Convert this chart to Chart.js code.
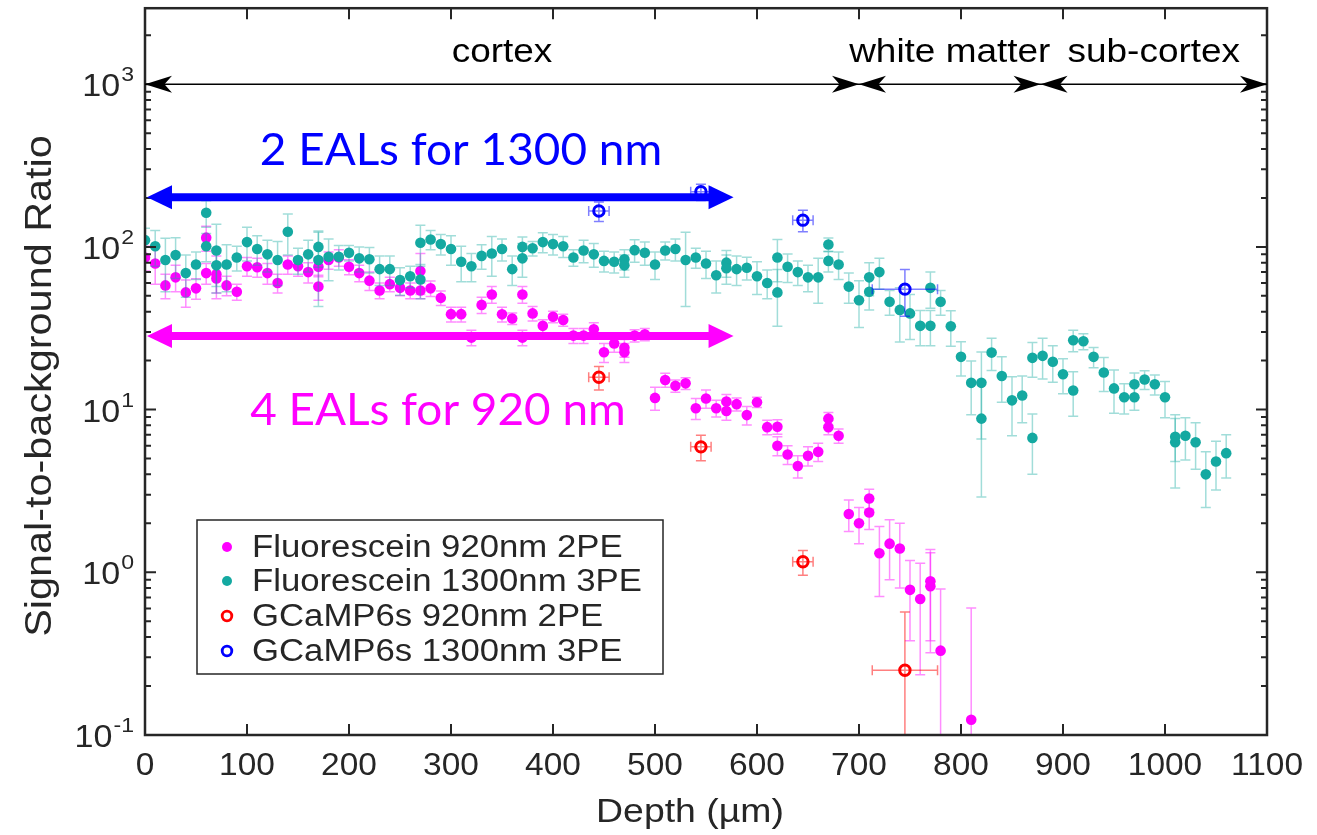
<!DOCTYPE html>
<html>
<head>
<meta charset="utf-8">
<script src="https://cdn.jsdelivr.net/npm/chart.js@4.4.1/dist/chart.umd.min.js"></script>
<style>html,body{margin:0;padding:0;background:#fff}canvas{display:block}</style>
</head>
<body>
<canvas id="c" width="1317" height="835"></canvas>
<script>
/* SBR vs depth — fluorescein / GCaMP6s, 920 nm 2PE vs 1300 nm 3PE */

// ---- data ----
const fluo1300Depth = [0,10,20,30,40,50,60,60,70,70,80,90,100,110,120,130,140,150,160,170,170,180,190,200,210,220,230,240,250,260,270,270,280,290,300,310,320,330,340,350,360,370,370,380,390,400,410,420,430,440,450,460,470,470,480,490,500,510,520,530,540,550,560,570,570,580,590,600,610,620,620,630,640,650,660,670,670,680,690,700,710,710,720,730,740,750,760,770,770,780,790,800,810,820,820,830,840,850,860,870,870,880,890,900,910,910,920,930,940,950,960,970,970,980,990,1000,1010,1010,1020,1030,1040,1050,1060];
const fluo1300Sbr = [110,101,83,89,69,78,162,101,95,77,78,86,107,97,90,83,124,83,90,100,83,87,87,92,85,84,73,73,62.5,66,63,106,111,104,97,81,76,88,91,97,73,100,85,98,107,104,101,86,95,90,82,81,84,77,95.5,92,78,95,97,83,86,79,67,80,74,73,74.5,66,60,86,52.5,75.5,70,65,65,103.5,82,78,57,47,65,53,70,46,41,39,32.7,56,32.7,46,32.5,21.1,14.6,14.6,8.8,22.4,16.1,11.4,12.2,20.8,6.7,21.4,19.7,16.5,26.7,13.1,26.3,21.1,16.9,13.5,11.9,11.9,14.3,15.3,14.3,11.9,6.8,6.3,6.9,6.3,4.0,4.8,5.4];
const fluo1300Err = [20,25,30,25,20,15,30,20,43,20,25,15,25,20,20,25,35,15,20,25,40,25,15,10,15,15,15,15,12,10,15,30,15,15,20,20,15,15,25,15,15,15,20,10,15,15,15,10,15,15,12,12,12,12,15,15,15,12,15,40,12,15,15,15,15,15,12,15,12,25,20,15,12,12,20,10,12,15,12,15,15,12,15,8,15,12,8,14,8,8,8,5,5.3,8,5.9,5,5,4.5,3.9,5,2.7,6,5,4,4,4,3,3,4,4,2.5,2,2.5,2,2,3,2,3,2,2,1.5,1.6,1.6];

const fluo920Depth = [0,10,20,30,40,50,60,60,70,70,80,90,100,110,120,130,140,150,160,170,170,180,190,200,210,220,230,240,250,260,270,270,280,290,300,310,320,330,340,350,360,370,370,380,390,400,410,420,430,440,450,460,470,470,480,490,500,510,520,530,540,550,560,570,570,580,590,600,610,620,620,630,640,650,660,670,670,680,690,700,710,710,720,730,740,750,760,770,770,780,810];
const fluo920Sbr = [86,79,58,65,52.5,55.6,114,69,68,64,58,53,76,75,69,60,78,76,70,75.5,57,83,86,75.5,69,62,54,59,56,54,54,71,55.6,48.6,38.6,38.6,27.7,44,51,38.5,36.3,51,27.7,39,32.7,37.2,35.5,28.5,28.5,31.2,22.5,25.5,24,22.5,28.5,29,11.8,15.2,14,14.5,10.2,11.7,10.2,11.2,9.8,10.8,9.25,11.1,7.8,7.85,6.0,5.3,4.5,5.2,5.5,8.8,7.8,6.9,2.28,2.0,2.84,2.33,1.31,1.5,1.4,0.78,0.685,0.88,0.82,0.33,0.124];
const fluo920Err = [15,20,10,12,10,8,20,10,20,12,8,6,10,10,10,8,10,10,10,10,10,10,10,8,8,8,6,6,6,6,6,20,6,5,4,4,3,5,6,4,3,6,3,4,3,3,3,3,3,3,3,3,3,3,2.5,2.5,1.9,1.5,1.2,1.2,1.5,1.5,1.2,1.2,1.2,1,1.2,0.8,0.8,0.8,0.8,0.7,0.7,0.7,0.7,0.8,0.8,0.7,0.5,0.5,0.4,0.5,0.6,0.6,0.6,0.4,0.45,0.5,0.5,0.46,0.48];

const gcamp920Depth = [445,545,645,745];
const gcamp920Sbr = [15.8,5.9,1.16,0.25];
const gcamp920Err = [2.6,1.05,0.2,0.32];
const gcamp920DepthErr = [10,10,10,32];

const gcamp1300Depth = [445,545,645,745];
const gcamp1300Sbr = [166,218,146,55];
const gcamp1300Err = [23,25,22,17.5];
const gcamp1300DepthErr = [10,10,10,32];

const seriesNames = ['Fluorescein 920nm 2PE','Fluorescein 1300nm 3PE','GCaMP6s 920nm 2PE','GCaMP6s 1300nm 3PE'];
const xTicks = [0,100,200,300,400,500,600,700,800,900,1000,1100];
const yTickExp = [-1,0,1,2,3];

const regionNames = ['cortex','white matter','sub-cortex'];
const regionBounds = [0,700,878,1100];
const regionLevel = 1000;

const ealLabels = ['2 EALs for 1300 nm','4 EALs for 920 nm'];
const ealLevels = [202,28.3];
const ealEnd = 577;

const MAG = '#ff00ff', TEAL = '#14a9a1', RED = '#ff0000', BLUE = '#0000ff', AX = '#262626';
const SANS = '"Liberation Sans", Arial, sans-serif';

const pts = (xs, ys) => xs.map((x, i) => ({x, y: ys[i]}));

function stretchText(ctx, s, x, y, font, align, sx) {
  ctx.save();
  ctx.font = font;
  ctx.translate(x, y);
  ctx.scale(sx, 1);
  ctx.textAlign = align;
  ctx.fillText(s, 0, 0);
  ctx.restore();
}

// ---- error bars, drawn under each dataset's markers ----
const errorBars = {
  id: 'errorBars',
  beforeDatasetDraw(chart, args) {
    const ds = chart.data.datasets[args.index];
    if (!ds.errY) return;
    const {ctx, chartArea: a} = chart;
    const xs = chart.scales.x, ys = chart.scales.y;
    ctx.save();
    ctx.beginPath();
    ctx.rect(a.left, a.top, a.right - a.left, a.bottom - a.top);
    ctx.clip();
    ctx.strokeStyle = ds.errColor;
    ctx.lineWidth = 1.5;
    const cap = 5;
    ds.data.forEach((p, i) => {
      const px = xs.getPixelForValue(p.x);
      const e = ds.errY[i];
      const hi = ys.getPixelForValue(p.y + e);
      const lo = p.y - e > 0 ? ys.getPixelForValue(p.y - e) : a.bottom + 40;
      ctx.beginPath();
      ctx.moveTo(px, lo); ctx.lineTo(px, hi);
      ctx.moveTo(px - cap, hi); ctx.lineTo(px + cap, hi);
      ctx.moveTo(px - cap, lo); ctx.lineTo(px + cap, lo);
      if (ds.errX) {
        const py = ys.getPixelForValue(p.y);
        const l = xs.getPixelForValue(p.x - ds.errX[i]);
        const r = xs.getPixelForValue(p.x + ds.errX[i]);
        ctx.moveTo(l, py); ctx.lineTo(r, py);
        ctx.moveTo(l, py - cap); ctx.lineTo(l, py + cap);
        ctx.moveTo(r, py - cap); ctx.lineTo(r, py + cap);
      }
      ctx.stroke();
    });
    ctx.restore();
  }
};

function plainHead(ctx, tipX, y, dir, L, W) {
  ctx.beginPath();
  ctx.moveTo(tipX, y);
  ctx.lineTo(tipX - dir * L, y - W / 2);
  ctx.lineTo(tipX - dir * L, y + W / 2);
  ctx.closePath();
  ctx.fill();
}
// MATLAB-style 'vback2' head: dart with a notched back
function vbackHead(ctx, tipX, y, dir, L, W) {
  ctx.beginPath();
  ctx.moveTo(tipX, y);
  ctx.lineTo(tipX - dir * L, y - W / 2);
  ctx.lineTo(tipX - dir * L * 0.72, y);
  ctx.lineTo(tipX - dir * L, y + W / 2);
  ctx.closePath();
  ctx.fill();
}

// ---- frame, ticks, labels, annotations, legend ----
const decor = {
  id: 'decor',
  afterDatasetsDraw(chart) {
    const {ctx, chartArea: a} = chart;
    const xs = chart.scales.x, ys = chart.scales.y;
    ctx.save();
    ctx.strokeStyle = AX;
    ctx.fillStyle = AX;

    // ticks (inside, all four sides)
    ctx.lineWidth = 2;
    ctx.beginPath();
    xTicks.forEach(v => {
      const px = xs.getPixelForValue(v);
      ctx.moveTo(px, a.bottom); ctx.lineTo(px, a.bottom - 11);
      ctx.moveTo(px, a.top); ctx.lineTo(px, a.top + 11);
    });
    for (let e = -1; e <= 3; e++) {
      for (let m = 1; m <= 9; m++) {
        const v = m * Math.pow(10, e);
        if (v > ys.max) continue;
        const py = ys.getPixelForValue(v);
        const len = m === 1 ? 11 : 6;
        ctx.moveTo(a.left, py); ctx.lineTo(a.left + len, py);
        ctx.moveTo(a.right, py); ctx.lineTo(a.right - len, py);
      }
    }
    ctx.stroke();

    // frame
    ctx.lineWidth = 2.5;
    ctx.strokeRect(a.left, a.top, a.right - a.left, a.bottom - a.top);

    // tick labels
    ctx.textBaseline = 'middle';
    xTicks.forEach(v => {
      stretchText(ctx, String(v), xs.getPixelForValue(v), a.bottom + 31, '31px ' + SANS, 'center', 1.08);
    });
    yTickExp.forEach(e => {
      const py = ys.getPixelForValue(Math.pow(10, e));
      const sup = String(e);
      ctx.font = '21px ' + SANS;
      const supW = ctx.measureText(sup).width * 1.1;
      const right = a.left - 11;
      ctx.textBaseline = 'alphabetic';
      stretchText(ctx, sup, right, py - 3, '21px ' + SANS, 'right', 1.1);
      stretchText(ctx, '10', right - supW - 1, py + 12, '31px ' + SANS, 'right', 1.1);
    });

    // axis titles
    ctx.textBaseline = 'alphabetic';
    stretchText(ctx, 'Depth (\u00b5m)', 690, 822, '34px ' + SANS, 'center', 1.1);
    ctx.save();
    ctx.translate(51, 386);
    ctx.rotate(-Math.PI / 2);
    stretchText(ctx, 'Signal-to-background Ratio', 0, 0, '36px ' + SANS, 'center', 1.15);
    ctx.restore();

    // region arrows along the top
    const ry = ys.getPixelForValue(regionLevel);
    ctx.fillStyle = '#000';
    ctx.strokeStyle = '#000';
    ctx.lineWidth = 1.5;
    ctx.beginPath();
    ctx.moveTo(xs.getPixelForValue(regionBounds[0]), ry);
    ctx.lineTo(xs.getPixelForValue(regionBounds[regionBounds.length - 1]), ry);
    ctx.stroke();
    for (let i = 0; i < regionNames.length; i++) {
      const l = xs.getPixelForValue(regionBounds[i]);
      const r = xs.getPixelForValue(regionBounds[i + 1]);
      vbackHead(ctx, l, ry, -1, 27, 17);
      vbackHead(ctx, r, ry, 1, 27, 17);
      stretchText(ctx, regionNames[i], (l + r) / 2, ry - 22, '33px ' + SANS, 'center', 1.12);
    }

    // EAL arrows
    const ealColors = [BLUE, MAG];
    const ealTextY = [165, 425];
    ealLevels.forEach((lv, i) => {
      const py = ys.getPixelForValue(lv);
      const l = xs.getPixelForValue(0) + 2, r = xs.getPixelForValue(ealEnd);
      ctx.fillStyle = ealColors[i];
      ctx.strokeStyle = ealColors[i];
      ctx.lineWidth = 8;
      ctx.beginPath();
      ctx.moveTo(l + 20, py); ctx.lineTo(r - 20, py);
      ctx.stroke();
      plainHead(ctx, l, py, -1, 25, 24);
      plainHead(ctx, r, py, 1, 25, 24);
      ctx.textAlign = 'center';
      stretchText(ctx, ealLabels[i], i === 0 ? 461 : 438, ealTextY[i], '45px Lato, "Open Sans", sans-serif', 'center', 1.02);
    });

    // legend
    const lx = 197, ly = 520, lw = 466, lh = 154;
    ctx.fillStyle = '#fff';
    ctx.fillRect(lx, ly, lw, lh);
    ctx.strokeStyle = AX;
    ctx.lineWidth = 1.5;
    ctx.strokeRect(lx, ly, lw, lh);
    const rows = [547, 581, 616, 651];
    const mk = [[MAG, true], [TEAL, true], [RED, false], [BLUE, false]];
    seriesNames.forEach((name, i) => {
      ctx.beginPath();
      ctx.arc(227, rows[i], mk[i][1] ? 5 : 4.8, 0, Math.PI * 2);
      if (mk[i][1]) { ctx.fillStyle = mk[i][0]; ctx.fill(); }
      else { ctx.strokeStyle = mk[i][0]; ctx.lineWidth = 2.8; ctx.stroke(); }
      ctx.fillStyle = AX;
      ctx.textBaseline = 'middle';
      stretchText(ctx, name, 252, rows[i] + 1, '31px ' + SANS, 'left', 1.12);
    });
    ctx.restore();
  }
};

new Chart(document.getElementById('c'), {
  type: 'scatter',
  data: {
    datasets: [
      { label: seriesNames[0], data: pts(fluo920Depth, fluo920Sbr), errY: fluo920Err,
        errColor: 'rgba(255,0,255,0.45)', pointRadius: 5.3, pointBackgroundColor: MAG,
        pointBorderWidth: 0, order: 4 },
      { label: seriesNames[1], data: pts(fluo1300Depth, fluo1300Sbr), errY: fluo1300Err,
        errColor: 'rgba(20,169,161,0.4)', pointRadius: 5.3, pointBackgroundColor: TEAL,
        pointBorderWidth: 0, order: 3 },
      { label: seriesNames[2], data: pts(gcamp920Depth, gcamp920Sbr), errY: gcamp920Err,
        errX: gcamp920DepthErr, errColor: 'rgba(255,0,0,0.5)', pointRadius: 5.2,
        pointBackgroundColor: 'rgba(0,0,0,0)', pointBorderColor: RED, pointBorderWidth: 3, order: 2 },
      { label: seriesNames[3], data: pts(gcamp1300Depth, gcamp1300Sbr), errY: gcamp1300Err,
        errX: gcamp1300DepthErr, errColor: 'rgba(0,0,255,0.5)', pointRadius: 5.2,
        pointBackgroundColor: 'rgba(0,0,0,0)', pointBorderColor: BLUE, pointBorderWidth: 3, order: 1 }
    ]
  },
  options: {
    responsive: false,
    animation: false,
    devicePixelRatio: 1,
    layout: { padding: { left: 145, right: 50, top: 8, bottom: 100 } },
    scales: {
      x: { type: 'linear', min: 0, max: 1100, display: false },
      y: { type: 'logarithmic', min: 0.1, max: Math.pow(10, 3.467), display: false }
    },
    plugins: { legend: { display: false }, tooltip: { enabled: false } }
  },
  plugins: [errorBars, decor]
});
</script>
</body>
</html>
